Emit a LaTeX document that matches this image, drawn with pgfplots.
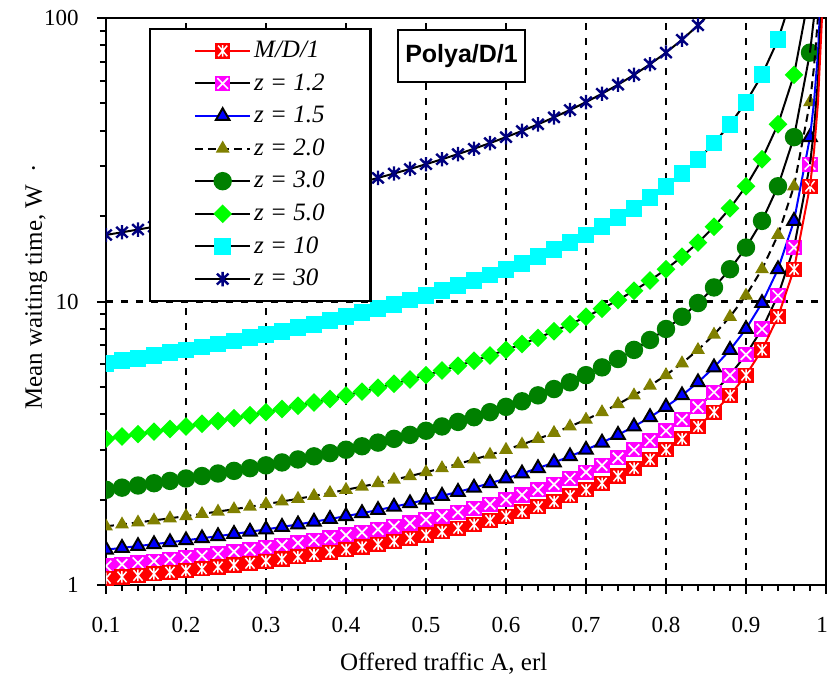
\documentclass[border=0pt]{standalone}
\usepackage{fontspec}
\setmainfont{Liberation Serif}
\newfontfamily\boxfont{Liberation Sans}
\usepackage{pgfplots}
\usepackage{pgfplotstable}
\pgfplotsset{compat=1.18}

\definecolor{cRed}{RGB}{255,0,0}
\definecolor{cMag}{RGB}{255,0,255}
\definecolor{cBlue}{RGB}{0,0,255}
\definecolor{cOlive}{RGB}{128,128,0}
\definecolor{cDGreen}{RGB}{0,128,0}
\definecolor{cLime}{RGB}{0,255,0}
\definecolor{cCyan}{RGB}{0,255,255}
\definecolor{cNavy}{RGB}{0,0,128}

% mean waiting time (A = offered traffic)
\pgfplotstableread{
A     md1    z12    z15    z2     z3     z5     z10    z30
0.10  1.056  1.167  1.333  1.611  2.167  3.278  6.056  17.17
0.12  1.068  1.182  1.352  1.636  2.205  3.341  6.182  17.55
0.14  1.081  1.198  1.372  1.663  2.244  3.407  6.314  17.94
0.16  1.095  1.214  1.393  1.690  2.286  3.476  6.452  18.36
0.18  1.110  1.232  1.415  1.720  2.329  3.549  6.598  18.79
0.20  1.125  1.250  1.438  1.750  2.375  3.625  6.750  19.25
0.22  1.141  1.269  1.462  1.782  2.423  3.705  6.910  19.73
0.24  1.158  1.289  1.487  1.816  2.474  3.789  7.079  20.24
0.26  1.176  1.311  1.514  1.851  2.527  3.878  7.257  20.77
0.28  1.194  1.333  1.542  1.889  2.583  3.972  7.444  21.33
0.30  1.214  1.357  1.571  1.929  2.643  4.071  7.643  21.93
0.32  1.235  1.382  1.603  1.971  2.706  4.176  7.853  22.56
0.34  1.258  1.409  1.636  2.015  2.773  4.288  8.076  23.23
0.36  1.281  1.438  1.672  2.063  2.844  4.406  8.313  23.94
0.38  1.306  1.468  1.710  2.113  2.919  4.532  8.565  24.69
0.40  1.333  1.500  1.750  2.167  3.000  4.667  8.833  25.50
0.42  1.362  1.534  1.793  2.224  3.086  4.810  9.121  26.36
0.44  1.393  1.571  1.839  2.286  3.179  4.964  9.429  27.29
0.46  1.426  1.611  1.889  2.352  3.278  5.130  9.759  28.28
0.48  1.462  1.654  1.942  2.423  3.385  5.308  10.12  29.35
0.50  1.500  1.700  2.000  2.500  3.500  5.500  10.50  30.50
0.52  1.542  1.750  2.063  2.583  3.625  5.708  10.92  31.75
0.54  1.587  1.804  2.130  2.674  3.761  5.935  11.37  33.11
0.56  1.636  1.864  2.205  2.773  3.909  6.182  11.86  34.59
0.58  1.690  1.929  2.286  2.881  4.071  6.452  12.40  36.21
0.60  1.750  2.000  2.375  3.000  4.250  6.750  13.00  38.00
0.62  1.816  2.079  2.474  3.132  4.447  7.079  13.66  39.97
0.64  1.889  2.167  2.583  3.278  4.667  7.444  14.39  42.17
0.66  1.971  2.265  2.706  3.441  4.912  7.853  15.21  44.62
0.68  2.063  2.375  2.844  3.625  5.188  8.313  16.13  47.38
0.70  2.167  2.500  3.000  3.833  5.500  8.833  17.17  50.50
0.72  2.286  2.643  3.179  4.071  5.857  9.429  18.36  54.07
0.74  2.423  2.808  3.385  4.346  6.269  10.12  19.73  58.19
0.76  2.583  3.000  3.625  4.667  6.750  10.92  21.33  63.00
0.78  2.773  3.227  3.909  5.045  7.318  11.86  23.23  68.68
0.80  3.000  3.500  4.250  5.500  8.000  13.00  25.50  75.50
0.82  3.278  3.833  4.667  6.056  8.833  14.39  28.28  83.83
0.84  3.625  4.250  5.188  6.750  9.875  16.13  31.75  94.25
0.86  4.071  4.786  5.857  7.643  11.21  18.36  36.21  107.6
0.88  4.667  5.500  6.750  8.833  13.00  21.33  42.17  125.5
0.90  5.500  6.500  8.000  10.50  15.50  25.50  50.50  150.5
0.92  6.750  8.000  9.875  13.00  19.25  31.75  63.00  188.0
0.94  8.833  10.50  13.00  17.17  25.50  42.17  83.83  250.5
0.96  13.00  15.50  19.25  25.50  38.00  63.00  125.5  375.5
0.98  25.50  30.50  38.00  50.50  75.50  125.5  250.5  750.5
}\maindata

% line ends running up to the top of the axis
\pgfplotstableread{
A      md1    z12    z15    z2     z3
0.980  25.50  30.50  38.00  50.50  75.50
0.985  33.83  40.50  50.50  67.17  100.5
0.990  50.50  60.50  75.50  100.5  150.5
0.995  100.5  120.5  150.5  200.5  300.5
}\taildata

% filled square with a white star / cross on it
\pgfdeclareplotmark{sqast}{%
  \pgfpathrectangle{\pgfpoint{-\pgfplotmarksize}{-\pgfplotmarksize}}{\pgfpoint{2\pgfplotmarksize}{2\pgfplotmarksize}}%
  \pgfusepathqfill
  \pgfsetstrokecolor{white}\pgfsetlinewidth{0.75pt}%
  \pgfpathmoveto{\pgfpoint{0pt}{0.75\pgfplotmarksize}}\pgfpathlineto{\pgfpoint{0pt}{-0.75\pgfplotmarksize}}%
  \pgfpathmoveto{\pgfpoint{-0.6\pgfplotmarksize}{0.7\pgfplotmarksize}}\pgfpathlineto{\pgfpoint{0.6\pgfplotmarksize}{-0.7\pgfplotmarksize}}%
  \pgfpathmoveto{\pgfpoint{-0.6\pgfplotmarksize}{-0.7\pgfplotmarksize}}\pgfpathlineto{\pgfpoint{0.6\pgfplotmarksize}{0.7\pgfplotmarksize}}%
  \pgfusepathqstroke}
\pgfdeclareplotmark{sqx}{%
  \pgfpathrectangle{\pgfpoint{-\pgfplotmarksize}{-\pgfplotmarksize}}{\pgfpoint{2\pgfplotmarksize}{2\pgfplotmarksize}}%
  \pgfusepathqfill
  \pgfsetstrokecolor{white}\pgfsetlinewidth{0.85pt}%
  \pgfpathmoveto{\pgfpoint{-0.7\pgfplotmarksize}{0.7\pgfplotmarksize}}\pgfpathlineto{\pgfpoint{0.7\pgfplotmarksize}{-0.7\pgfplotmarksize}}%
  \pgfpathmoveto{\pgfpoint{-0.7\pgfplotmarksize}{-0.7\pgfplotmarksize}}\pgfpathlineto{\pgfpoint{0.7\pgfplotmarksize}{0.7\pgfplotmarksize}}%
  \pgfusepathqstroke}
\pgfdeclareplotmark{xast}{%
  \pgfpathmoveto{\pgfpoint{0pt}{\pgfplotmarksize}}\pgfpathlineto{\pgfpoint{0pt}{-\pgfplotmarksize}}%
  \pgfpathmoveto{\pgfpoint{-0.8\pgfplotmarksize}{0.75\pgfplotmarksize}}\pgfpathlineto{\pgfpoint{0.8\pgfplotmarksize}{-0.75\pgfplotmarksize}}%
  \pgfpathmoveto{\pgfpoint{-0.8\pgfplotmarksize}{-0.75\pgfplotmarksize}}\pgfpathlineto{\pgfpoint{0.8\pgfplotmarksize}{0.75\pgfplotmarksize}}%
  \pgfusepathqstroke}

\begin{document}
\begin{tikzpicture}
\begin{axis}[
  name=ax,
  scale only axis, width=360pt, height=283.5pt,
  xmin=0.1, xmax=1, ymin=1, ymax=100, ymode=log,
  xtick={0.1,0.2,0.3,0.4,0.5,0.6,0.7,0.8,0.9,1},
  xticklabels={0.1,0.2,0.3,0.4,0.5,0.6,0.7,0.8,0.9,1\kern4pt},
  minor x tick num=4,
  ytick={1,10,100}, yticklabels={1,10,100},
  minor ytick={2,3,4,5,6,7,8,9,20,30,40,50,60,70,80,90},
  tick align=outside, xtick pos=bottom, ytick pos=left,
  major tick length=4.5pt, minor tick length=3pt,
  every tick/.style={black, line width=1pt},
  axis line style={line width=1.2pt},
  grid=major,
  major grid style={black, line width=1.4pt, dash pattern=on 3.5pt off 4pt},
  tick label style={font=\fontsize{11.5}{13}\selectfont},
  /pgf/number format/assume math mode=true,
  xticklabel style={yshift=-8pt},
  yticklabel style={xshift=-5.7pt},
  xlabel={Offered traffic A, erl},
  ylabel={Mean waiting time, W\ \ ·},
  label style={font=\fontsize{12.5}{15}\selectfont},
  xlabel style={at={(axis description cs:0.469,0)}, anchor=base, yshift=-42.5pt},
  ylabel style={at={(axis description cs:-0.0889,0.526)}, anchor=base},
  clip marker paths=true,
  reverse legend,
  legend cell align=left,
  legend style={at={(axis description cs:0.0597,0.9824)}, anchor=north west,
    draw=black, line width=1.2pt, fill=white, inner xsep=22pt, inner ysep=5pt,
    row sep=4.5pt, column sep=0.5pt, nodes={inner sep=1pt},
    font=\fontsize{12.5}{15}\selectfont\itshape},
  legend image code/.code={\draw[mark repeat=2,mark phase=2] plot coordinates {(0pt,0pt)(13.75pt,0pt)(27.5pt,0pt)};},
]

\addplot[black, line width=1pt, mark=xast, mark size=3.6pt, mark options={cNavy, solid, line width=1.2pt}]
  table[x=A, y=z30] {\maindata};
\addlegendentry{z = 30}

\addplot[black, line width=1pt, mark=square*, mark size=3.7pt, mark options={cCyan, solid}]
  table[x=A, y=z10] {\maindata};
\addlegendentry{z = 10}

\addplot[black, line width=1pt, mark=square*, mark size=2.8pt, mark options={cLime, solid, rotate=45}]
  table[x=A, y=z5] {\maindata};
\addlegendentry{z = 5.0}

\addplot[black, line width=1pt, mark=*, mark size=4.1pt, mark options={cDGreen, solid}]
  table[x=A, y=z3] {\maindata};
\addlegendentry{z = 3.0}
\addplot[black, line width=1pt, forget plot] table[x=A, y=z3] {\taildata};

\addplot[black, line width=1pt, dash pattern=on 4pt off 2.5pt, mark=triangle*, mark size=3pt, mark options={cOlive, solid}]
  table[x=A, y=z2] {\maindata};
\addlegendentry{z = 2.0}
\addplot[black, line width=1pt, dash pattern=on 4pt off 2.5pt, forget plot] table[x=A, y=z2] {\taildata};

\addplot[cBlue, line width=1pt, mark=triangle*, mark size=3.9pt, mark options={fill=cBlue, draw=black, line width=1pt, solid}]
  table[x=A, y=z15] {\maindata};
\addlegendentry{z = 1.5}
\addplot[cBlue, line width=1pt, forget plot] table[x=A, y=z15] {\taildata};

\addplot[black, line width=1pt, mark=sqx, mark size=3.8pt, mark options={fill=cMag, solid}]
  table[x=A, y=z12] {\maindata};
\addlegendentry{z = 1.2}
\addplot[black, line width=1pt, forget plot] table[x=A, y=z12] {\taildata};

\addplot[cRed, line width=1pt, mark=sqast, mark size=3.8pt, mark options={fill=cRed, solid}]
  table[x=A, y=md1] {\maindata};
\addlegendentry{M/D/1}
\addplot[cRed, line width=1pt, forget plot] table[x=A, y=md1] {\taildata};

\node[draw=black, line width=1pt, fill=white, inner sep=0pt,
  minimum width=63.5pt, minimum height=26pt,
  font=\boxfont\bfseries\fontsize{12.5}{15}\selectfont]
  at (rel axis cs:0.4938,0.933) {Polya/D/1};
\end{axis}
\pgfresetboundingbox
\path ([shift={(-53pt,-46pt)}]ax.south west) rectangle ([shift={(1pt,9pt)}]ax.north east);
\end{tikzpicture}
\end{document}
